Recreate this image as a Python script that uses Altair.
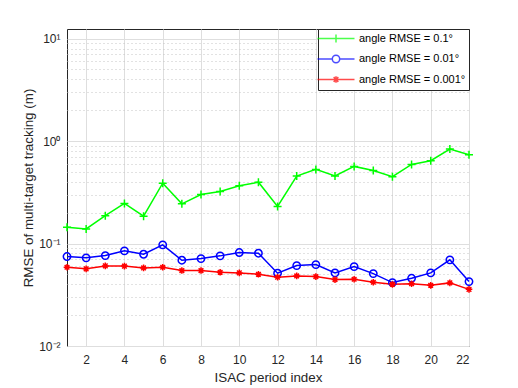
import altair as alt
import pandas as pd

# ---------------- data ----------------
period_index = list(range(1, 23))
rmse_angle_01 = [0.144, 0.139, 0.187, 0.246, 0.185, 0.388, 0.244, 0.301, 0.322, 0.366, 0.397,
                 0.230, 0.455, 0.529, 0.456, 0.566, 0.517, 0.449, 0.592, 0.643, 0.835, 0.736]
rmse_angle_001 = [0.0747, 0.0725, 0.0763, 0.0849, 0.0786, 0.0971, 0.0687, 0.0713, 0.0758, 0.0817, 0.0804,
                  0.0513, 0.0609, 0.0623, 0.0517, 0.0596, 0.0509, 0.0416, 0.0458, 0.0517, 0.0693, 0.0425]
rmse_angle_0001 = [0.0587, 0.0566, 0.0605, 0.0602, 0.0578, 0.0587, 0.0545, 0.0545, 0.0524, 0.0517, 0.0501,
                   0.0469, 0.0483, 0.0476, 0.0445, 0.0448, 0.0419, 0.0400, 0.0405, 0.0391, 0.0413, 0.0357]
series_names = ["angle RMSE = 0.1°", "angle RMSE = 0.01°", "angle RMSE = 0.001°"]
series_colors = ["#00ff00", "#0000ff", "#ff0000"]

x_ticks = [2, 4, 6, 8, 10, 12, 14, 16, 18, 20, 22]
y_major = [0.01, 0.1, 1, 10]
y_major_labels = ["10⁻²", "10⁻¹", "10⁰", "10¹"]
y_minor = [0.02, 0.03, 0.04, 0.05, 0.06, 0.07, 0.08, 0.09,
           0.2, 0.3, 0.4, 0.5, 0.6, 0.7, 0.8, 0.9,
           2, 3, 4, 5, 6, 7, 8, 9]

# ---------------- table ----------------
rows = []
for name, vals in zip(series_names, [rmse_angle_01, rmse_angle_001, rmse_angle_0001]):
    for xi, v in zip(period_index, vals):
        rows.append({"period": xi, "rmse": v, "series": name})
df = pd.DataFrame(rows)

FONT = "Liberation Sans"

# marker shapes (drawn on the plot)
plus_path = "M-1,0H1M0,-1V1"
star_path = "M-1,0H1M0,-1V1M-0.7,-0.7L0.7,0.7M-0.7,0.7L0.7,-0.7"
# legend shapes: line segment through marker
leg_plus = "M-3.7,0H3.7M0,-0.8V0.8"
leg_circle = "M-3.7,0H-0.74M0.74,0H3.7M0.74,0A0.74,0.74,0,1,1,-0.74,0A0.74,0.74,0,1,1,0.74,0"
leg_star = "M-3.7,0H3.7M0,-0.66V0.66M-0.47,-0.47L0.47,0.47M-0.47,0.47L0.47,-0.47"

label_expr = " : ".join(
    f"datum.value == {v} ? '{lab}'" for v, lab in zip(y_major, y_major_labels)
) + " : ''"
major_test = " || ".join(f"datum.value == {v}" for v in y_major)

x_enc = alt.X(
    "period:Q",
    scale=alt.Scale(domain=[1, 22], nice=False, zero=False),
    axis=alt.Axis(
        values=x_ticks, title="ISAC period index", grid=True, gridColor="#dedede",
        gridWidth=1, domain=False, ticks=False, labelPadding=8, labelFontSize=12,
        labelFont=FONT, labelColor="#262626", titleFont=FONT, titleFontSize=13.4,
        titleFontWeight="normal", titleColor="#262626", titlePadding=5,
    ),
)
y_enc = alt.Y(
    "rmse:Q",
    scale=alt.Scale(type="log", domain=[0.01, 12.41], nice=False),
    axis=alt.Axis(
        values=y_major + y_minor, labelExpr=label_expr,
        title="RMSE of multi-target tracking (m)", grid=True,
        gridColor={"condition": {"test": major_test, "value": "#dedede"}, "value": "#c4c4c4"},
        gridDash={"condition": {"test": major_test, "value": []}, "value": [1, 3]},
        gridWidth=1, domain=False, ticks=False, labelPadding=7, labelFontSize=12,
        labelFont=FONT, labelColor="#262626", titleFont=FONT, titleFontSize=13.4,
        titleFontWeight="normal", titleColor="#262626", titlePadding=3,
    ),
)

color_scale = alt.Scale(domain=series_names, range=series_colors)

lines = alt.Chart(df).mark_line(strokeWidth=1.5).encode(
    x=x_enc, y=y_enc,
    color=alt.Color("series:N", scale=color_scale, legend=None),
)

points = alt.Chart(df).mark_point(filled=False, strokeWidth=1.5, opacity=1).encode(
    x=x_enc, y=y_enc,
    color=alt.Color("series:N", scale=color_scale, legend=None),
    shape=alt.Shape("series:N", scale=alt.Scale(domain=series_names,
                                                 range=[plus_path, "circle", star_path]), legend=None),
    size=alt.Size("series:N", scale=alt.Scale(domain=series_names, range=[64, 44, 40]), legend=None),
)

legend_layer = alt.Chart(df).transform_filter("false").mark_point(filled=False, strokeWidth=1.5).encode(
    x=x_enc, y=y_enc,
    color=alt.Color("series:N", scale=color_scale, legend=alt.Legend(title=None)),
    shape=alt.Shape("series:N", scale=alt.Scale(domain=series_names,
                                                 range=[leg_plus, leg_circle, leg_star]),
                    legend=alt.Legend(title=None)),
)

chart = alt.layer(lines, points, legend_layer).resolve_scale(
    color="independent", shape="independent", size="independent"
).properties(
    width=402, height=317,
    autosize=alt.AutoSizeParams(type="none"),
    padding={"left": 59, "top": 21, "right": 41, "bottom": 44},
).configure_view(
    stroke="#262626", strokeWidth=1
).configure_legend(
    orient="top-right", offset=0, padding=3.5, rowPadding=6.5,
    strokeColor="#262626", fillColor="white", cornerRadius=0,
    symbolSize=100, symbolStrokeWidth=1.5, symbolOffset=8.5, labelOffset=17,
    labelFont=FONT, labelFontSize=11, labelColor="black", symbolFillColor="transparent",
)

chart.save("out.html", embed_options={"renderer": "svg", "actions": False})
